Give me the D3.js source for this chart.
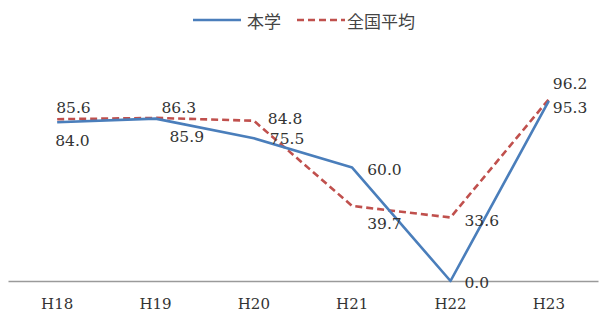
<!DOCTYPE html>
<html>
<head>
<meta charset="utf-8">
<script src="https://cdn.jsdelivr.net/npm/d3@7"></script>
<style>
  html, body { margin: 0; padding: 0; background: #fff; }
  svg { display: block; }
</style>
</head>
<body>
<svg id="chart" width="603" height="321"></svg>
<script>
// Fiscal years
const categories = ["H18", "H19", "H20", "H21", "H22", "H23"];
// Series names
const seriesNames = ["本学", "全国平均"];
// Values (%)
const ownValues = [84.0, 85.9, 75.5, 60.0, 0.0, 95.3];
const nationalValues = [85.6, 86.3, 84.8, 39.7, 33.6, 96.2];

// Label nudges [dx, dy] relative to each point
const ownLabelNudge = [[-2, 19], [14, 18], [16, 1], [15, 2], [14, 2], [4, 7]];
const nationalLabelNudge = [[-1, -11], [6, -10], [14, -2], [15, 18], [14, 4], [4, -15]];

const svg = d3.select("#chart");

const x = d3.scaleBand().domain(categories).range([8, 598]).padding(0);
const y = d3.scaleLinear().domain([0, 100]).range([281, 92]);
const cx = c => x(c) + x.bandwidth() / 2;

const series = [
  { name: seriesNames[0], values: ownValues, nudge: ownLabelNudge,
    color: "#4a7ebb", dash: null },
  { name: seriesNames[1], values: nationalValues, nudge: nationalLabelNudge,
    color: "#c0504d", dash: "7,4" }
];

// Category axis
const axis = svg.append("g")
  .attr("transform", "translate(0,281)")
  .call(d3.axisBottom(x).tickSize(0).tickPadding(17));
axis.select(".domain").attr("stroke", "#9a9a9a").attr("stroke-width", 1.5);
axis.selectAll("text")
  .attr("font-family", "DejaVu Serif")
  .attr("font-size", 15)
  .attr("fill", "#333");

const line = d3.line()
  .x((d, i) => cx(categories[i]))
  .y(d => y(d));

// Draw the national average first so our own line sits on top where they meet
[series[1], series[0]].forEach(s => {
  svg.append("path")
    .datum(s.values)
    .attr("fill", "none")
    .attr("stroke", s.color)
    .attr("stroke-width", 2.6)
    .attr("stroke-linejoin", "round")
    .attr("stroke-dasharray", s.dash)
    .attr("d", line);
});

// Value labels
series.forEach(s => {
  svg.append("g").selectAll("text")
    .data(s.values)
    .join("text")
    .attr("x", (d, i) => cx(categories[i]) + s.nudge[i][0])
    .attr("y", (d, i) => y(d) + s.nudge[i][1])
    .attr("dominant-baseline", "central")
    .attr("font-family", "DejaVu Serif")
    .attr("font-size", 15.5)
    .attr("fill", "#333")
    .text(d => d.toFixed(1));
});

// Legend
const legend = svg.append("g");
const legendItems = [
  { s: series[0], x0: 193, x1: 241, tx: 247 },
  { s: series[1], x0: 297, x1: 345, tx: 347 }
];
legendItems.forEach(it => {
  legend.append("line")
    .attr("x1", it.x0).attr("x2", it.x1)
    .attr("y1", 20).attr("y2", 20)
    .attr("stroke", it.s.color)
    .attr("stroke-width", 2.6)
    .attr("stroke-dasharray", it.s.dash);
  legend.append("text")
    .attr("x", it.tx).attr("y", 20)
    .attr("dominant-baseline", "central")
    .attr("font-family", "Noto Sans CJK JP")
    .attr("font-size", 17)
    .attr("fill", "#444")
    .text(it.s.name);
});
</script>
</body>
</html>
